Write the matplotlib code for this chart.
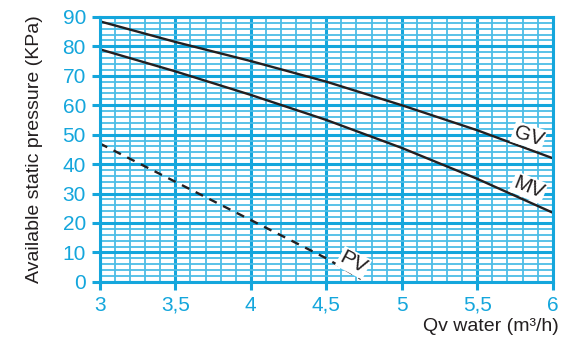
import numpy as np
import matplotlib.pyplot as plt
from matplotlib.ticker import MultipleLocator, FuncFormatter

# curves
flow_gv = [3.0, 3.5, 4.0, 4.5, 5.0, 5.5, 6.0]
press_gv = [88.5, 81.5, 75.0, 68.0, 60.0, 51.5, 42.0]
flow_mv = [3.0, 3.5, 4.0, 4.5, 5.0, 5.5, 6.0]
press_mv = [79.0, 71.5, 63.5, 55.0, 45.5, 35.0, 23.5]
flow_pv = [3.0, 3.5, 4.0, 4.5, 4.73]
press_pv = [47.0, 34.0, 21.0, 8.0, 1.0]

blue = "#14a6dc"
light = "#4cbde6"

plt.rcParams["font.family"] = ["Liberation Sans Narrow", "Liberation Sans", "DejaVu Sans"]

fig = plt.figure(figsize=(5.64, 3.45), dpi=100)
ax = fig.add_axes([0.177, 0.183, 0.803, 0.768])

ax.set_xlim(3, 6)
ax.set_ylim(0, 90)
ax.xaxis.set_major_locator(MultipleLocator(0.5))
ax.xaxis.set_minor_locator(MultipleLocator(0.1))
ax.yaxis.set_major_locator(MultipleLocator(10))
ax.yaxis.set_minor_locator(MultipleLocator(2))
ax.xaxis.set_major_formatter(FuncFormatter(lambda v, p: ("%g" % v).replace(".", ",")))

ax.grid(which="minor", color=light, linewidth=1.3)
ax.grid(which="major", color=blue, linewidth=2.2)
ax.set_axisbelow(True)

for s in ax.spines.values():
    s.set_color(blue)
    s.set_linewidth(2.2)

ax.tick_params(which="major", direction="out", length=6, width=2.2, color=blue,
               labelcolor=blue, labelsize=15, pad=4)
ax.tick_params(which="minor", length=0)

ax.plot(flow_gv, press_gv, color="#231f20", lw=1.7)
ax.plot(flow_mv, press_mv, color="#231f20", lw=1.7)
ax.plot(flow_pv, press_pv, color="#231f20", lw=1.7, dashes=(3.5, 3))

box = dict(facecolor="white", edgecolor="none", pad=1.0)
ax.text(5.84, 49.5, "GV", rotation=-18, fontsize=15, color="#231f20",
        ha="center", va="center", bbox=box)
ax.text(5.84, 32, "MV", rotation=-22, fontsize=15, color="#231f20",
        ha="center", va="center", bbox=box)
ax.text(4.68, 6.5, "PV", rotation=-28, fontsize=15, color="#231f20",
        ha="center", va="center", bbox=box)

ax.set_ylabel("Available static pressure (KPa)", fontsize=14, color="#231f20", labelpad=14)
fig.text(0.99, 0.03, "Qv water (m\u00b3/h)", fontsize=14, color="#231f20", ha="right", va="bottom")

fig.savefig("out.png", dpi=100)
